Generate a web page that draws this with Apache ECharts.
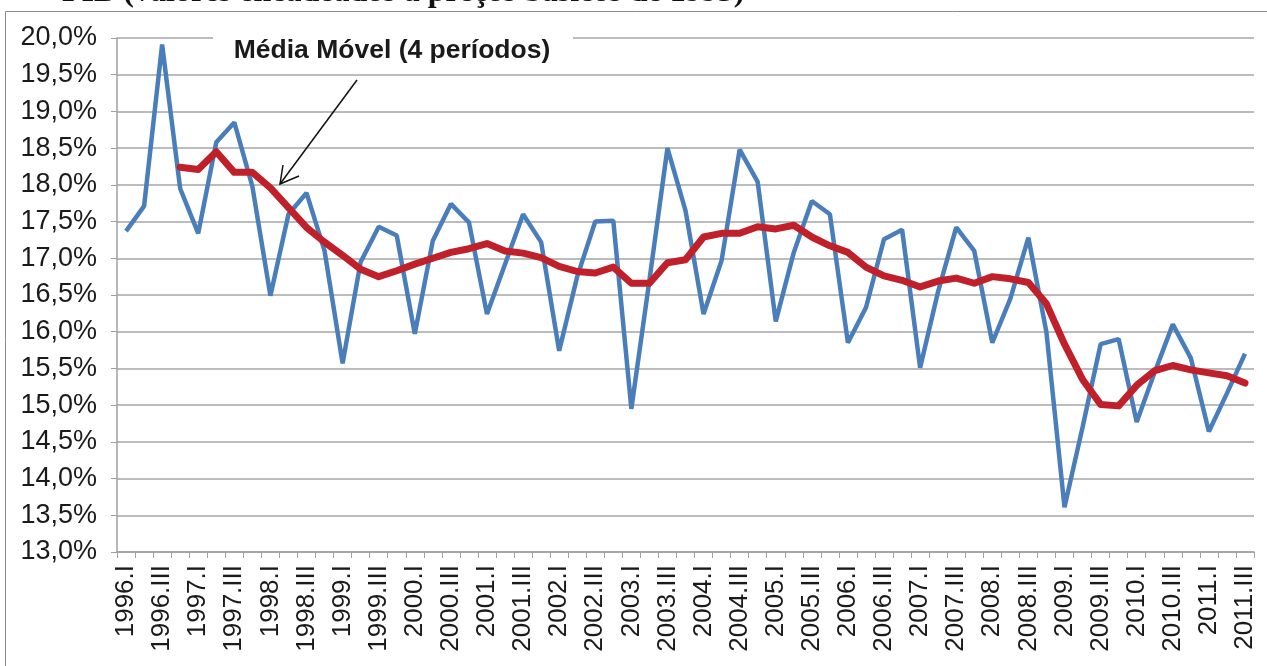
<!DOCTYPE html>
<html>
<head>
<meta charset="utf-8">
<script src="https://cdn.jsdelivr.net/npm/echarts@6/dist/echarts.min.js"></script>
<style>
  html, body { margin: 0; padding: 0; background: #ffffff; }
  #chart { width: 1267px; height: 666px; }
</style>
</head>
<body>
<div id="chart"></div>
<script>
  // trimestres 1996.I .. 2011.III
  const years = [1996, 1997, 1998, 1999, 2000, 2001, 2002, 2003, 2004, 2005, 2006, 2007, 2008, 2009, 2010, 2011];
  const quarters = ['I', 'II', 'III', 'IV'];
  const categories = years.flatMap(y => quarters.map(q => y + '.' + q)).slice(0, 63);

  // serie trimestral (%)
  const valores = [
    17.37, 17.71, 19.91, 17.95, 17.34, 18.58, 18.85, 17.98,
    16.49, 17.60, 17.89, 17.10, 15.57, 16.95, 17.43, 17.31,
    15.97, 17.24, 17.74, 17.49, 16.24, 16.92, 17.60, 17.22,
    15.74, 16.75, 17.50, 17.51, 14.95, 16.70, 18.50, 17.65,
    16.24, 16.97, 18.48, 18.04, 16.14, 17.08, 17.78, 17.60,
    15.85, 16.33, 17.26, 17.39, 15.51, 16.55, 17.42, 17.10,
    15.85, 16.45, 17.28, 15.99, 13.61, 14.70, 15.83, 15.90,
    14.77, 15.45, 16.10, 15.64, 14.64, 15.16, 15.70
  ];

  // media movel (4 periodos)
  const mediaMovel = [
    null, null, null, 18.24, 18.21, 18.45, 18.17, 18.17,
    17.96, 17.69, 17.42, 17.22, 17.04, 16.85, 16.75, 16.83,
    16.92, 17.00, 17.08, 17.13, 17.20, 17.10, 17.07, 17.01,
    16.89, 16.82, 16.80, 16.88, 16.66, 16.66, 16.94, 16.98,
    17.29, 17.34, 17.34, 17.43, 17.40, 17.45, 17.29, 17.17,
    17.08, 16.88, 16.76, 16.70, 16.61, 16.69, 16.73, 16.66,
    16.75, 16.72, 16.67, 16.38, 15.83, 15.35, 15.01, 14.99,
    15.27, 15.47, 15.54, 15.48, 15.44, 15.40, 15.30
  ];

  const myChart = echarts.init(document.getElementById('chart'));

  const option = {
    backgroundColor: '#ffffff',
    animation: false,
    grid: { left: 117, right: 13, top: 38, bottom: 114, containLabel: false },
    xAxis: {
      type: 'category',
      data: categories,
      boundaryGap: true,
      axisLine: { lineStyle: { color: '#a0a0a0', width: 1.5 } },
      axisTick: { show: true, interval: 0, length: 6, lineStyle: { color: '#a0a0a0' } },
      axisLabel: {
        interval: 1,
        rotate: 90,
        margin: 13,
        color: '#1a1a1a',
        fontFamily: 'Liberation Sans',
        fontSize: 26
      },
      splitLine: { show: false }
    },
    yAxis: {
      type: 'value',
      min: 13,
      max: 20,
      interval: 0.5,
      axisLine: { show: true, lineStyle: { color: '#a0a0a0', width: 1.5 } },
      axisTick: { show: true, length: 6, lineStyle: { color: '#a0a0a0' } },
      axisLabel: {
        margin: 20,
        color: '#1a1a1a',
        fontFamily: 'Liberation Sans',
        fontSize: 27,
        formatter: v => v.toFixed(1).replace('.', ',') + '%'
      },
      splitLine: { lineStyle: { color: '#a6a6a6', width: 1.5 } }
    },
    series: [
      {
        name: 'PIB',
        type: 'line',
        data: valores,
        symbol: 'none',
        lineStyle: { color: '#4a7ebb', width: 4.5 },
        z: 2
      },
      {
        name: 'Média Móvel',
        type: 'line',
        data: mediaMovel,
        symbol: 'none',
        lineStyle: { color: '#c0202a', width: 7, cap: 'round', join: 'round' },
        z: 3
      }
    ],
    graphic: [
      {
        type: 'rect',
        shape: { x: 5.5, y: 11.5, width: 1300, height: 700 },
        style: { fill: 'none', stroke: '#8c8c8c', lineWidth: 1 },
        silent: true, z: 0
      },
      {
        type: 'text',
        x: 62, y: -7,
        style: {
          text: 'PIB (valores encadeados a preços básicos de 1995)',
          font: 'bold 32px "Liberation Serif"',
          fill: '#111111',
          verticalAlign: 'middle'
        },
        silent: true, z: 100
      },
      {
        type: 'rect',
        shape: { x: 213, y: 28, width: 360, height: 42 },
        style: { fill: '#ffffff' },
        silent: true, z: 100
      },
      {
        type: 'text',
        x: 392, y: 51,
        style: {
          text: 'Média Móvel (4 períodos)',
          font: 'bold 26.5px "Liberation Sans"',
          fill: '#1a1a1a',
          align: 'center',
          verticalAlign: 'middle'
        },
        silent: true, z: 101
      },
      {
        type: 'line',
        shape: { x1: 357, y1: 80, x2: 280, y2: 184 },
        style: { stroke: '#111111', lineWidth: 1.5 },
        silent: true, z: 101
      },
      {
        type: 'polyline',
        shape: { points: [[283, 165], [280, 184], [299, 176]] },
        style: { stroke: '#111111', lineWidth: 1.5, fill: 'none' },
        silent: true, z: 101
      }
    ]
  };

  myChart.setOption(option);
</script>
</body>
</html>
